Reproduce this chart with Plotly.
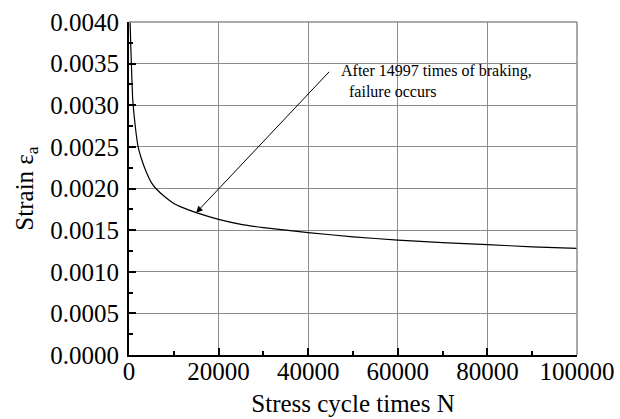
import plotly.graph_objects as go

# Fatigue curve: strain amplitude vs. number of stress cycles
cycles = [250, 400, 530, 800, 1100, 1500, 2000, 2700, 3700, 5000, 6000, 8000,
          10000, 12000, 14997, 20000, 25000, 30000, 40000, 50000, 60000,
          70000, 80000, 90000, 100000]
strain = [0.0040, 0.0037, 0.0035, 0.0031, 0.00290, 0.0027, 0.00251, 0.00237,
          0.00222, 0.00207, 0.00200, 0.00190, 0.00182, 0.00177, 0.00171,
          0.00163, 0.00157, 0.00153, 0.00147, 0.00142, 0.00138, 0.00135,
          0.001325, 0.0013, 0.00128]

x_ticks = [0, 20000, 40000, 60000, 80000, 100000]
y_ticks = [0.0, 0.0005, 0.0010, 0.0015, 0.0020, 0.0025, 0.0030, 0.0035, 0.0040]

failure_n = 14997
failure_strain = 0.00171
note_tail = (45000, 0.00342)
note_lines = ["After 14997 times of braking,", " failure occurs"]

FONT = "Liberation Serif"

fig = go.Figure()
fig.add_trace(go.Scatter(
    x=cycles, y=strain, mode="lines",
    line=dict(color="black", width=1.2, shape="spline", smoothing=0.4),
    showlegend=False,
))

fig.add_annotation(
    x=failure_n, y=failure_strain, xref="x", yref="y",
    ax=note_tail[0], ay=note_tail[1], axref="x", ayref="y",
    text="", showarrow=True, arrowhead=2, arrowsize=1.3, arrowwidth=1,
    arrowcolor="black", standoff=0,
)
fig.add_annotation(
    x=note_tail[0], y=note_tail[1], xref="x", yref="y",
    text=note_lines[0] + "<br>&nbsp;" + note_lines[1],
    showarrow=False, xanchor="left", yanchor="top", align="left",
    xshift=8, yshift=10,
    font=dict(family=FONT, size=16, color="black"),
)

axis_common = dict(
    showline=True, linecolor="black", linewidth=2,
    showgrid=True, gridcolor="#8c8c8c", gridwidth=1,
    ticks="inside", ticklen=7, tickwidth=2, tickcolor="black",
    tickfont=dict(family=FONT, size=25, color="black"),
    zeroline=False, automargin=False,
    minor=dict(ticks="inside", ticklen=4, tickwidth=2, tickcolor="black",
               showgrid=False),
)

fig.update_xaxes(
    range=[0, 100000], tickvals=x_ticks, ticktext=[str(v) for v in x_ticks],
    minor_dtick=10000, ticklabelstandoff=-7,
    title=dict(text="Stress cycle times N", standoff=10,
               font=dict(family=FONT, size=25, color="black")),
    **axis_common,
)
fig.update_yaxes(
    range=[0, 0.004], tickvals=y_ticks, ticktext=[f"{v:.4f}" for v in y_ticks],
    minor_dtick=0.00025, ticklabelstandoff=3,
    title=dict(text="Strain ε<sub>a</sub>", standoff=10,
               font=dict(family=FONT, size=25, color="black")),
    **axis_common,
)

# gray frame on the top and right edges of the plotting area
fig.add_shape(type="line", xref="paper", yref="paper", x0=0, x1=1, y0=1, y1=1,
              line=dict(color="#8c8c8c", width=1.5))
fig.add_shape(type="line", xref="paper", yref="paper", x0=1, x1=1, y0=0, y1=1,
              line=dict(color="#8c8c8c", width=1.5))

fig.update_layout(
    width=620, height=419,
    margin=dict(l=129, r=43, t=22, b=64),
    paper_bgcolor="white", plot_bgcolor="white",
    font=dict(family=FONT, color="black"),
)

fig.write_html("out.html")
